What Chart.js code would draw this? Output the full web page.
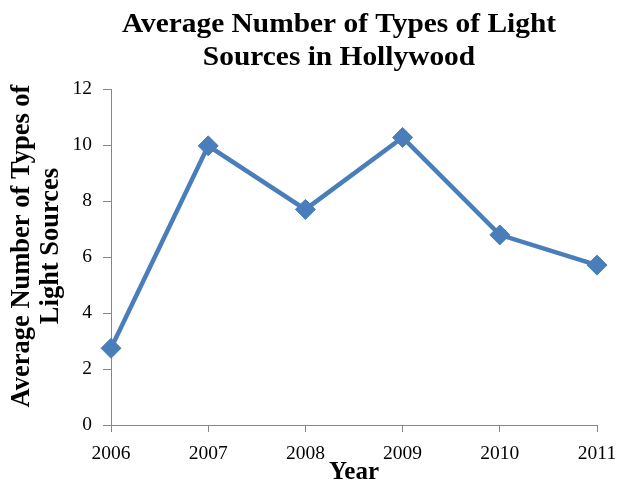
<!DOCTYPE html>
<html>
<head>
<meta charset="utf-8">
<script src="https://cdn.jsdelivr.net/npm/chart.js@4.4.0/dist/chart.umd.min.js"></script>
<style>
  html, body { margin: 0; padding: 0; background: #fff; }
  #box { width: 619px; height: 487px; }
</style>
</head>
<body>
<div id="box"><canvas id="lightChart"></canvas></div>
<script>
const years = ['2006', '2007', '2008', '2009', '2010', '2011'];
const avgTypes = [2.74, 9.97, 7.70, 10.27, 6.79, 5.71];
const yMin = 0;
const yMax = 12;
const yStep = 2;
const titleLines = ['Average Number of Types of Light', 'Sources in Hollywood'];
const yTitleLines = ['Average Number of Types of', 'Light Sources'];
const xTitle = 'Year';

const serif = "'Liberation Serif', 'Times New Roman', serif";
const axisGray = '#868686';
const lineBlue = '#4a7ebb';

// heading and the two-line y caption are drawn by hand
const captionPlugin = {
    id: 'captions',
    afterDraw(chart) {
        const ctx = chart.ctx;
        ctx.save();
        ctx.fillStyle = '#000';
        ctx.textAlign = 'center';
        ctx.textBaseline = 'alphabetic';

        // heading, slightly widened
        ctx.save();
        ctx.font = 'bold 28px ' + serif;
        ctx.translate(339, 0);
        ctx.scale(1.05, 1);
        titleLines.forEach((t, i) => ctx.fillText(t, 0, 32 + i * 33));
        ctx.restore();

        // y caption, rotated, centred a little above the axis middle
        ctx.save();
        ctx.font = 'bold 26.5px ' + serif;
        const midY = (chart.chartArea.top + chart.chartArea.bottom) / 2 - 11;
        yTitleLines.forEach((t, i) => {
            ctx.save();
            ctx.translate(29 + i * 29, midY);
            ctx.rotate(-Math.PI / 2);
            ctx.fillText(t, 0, 0);
            ctx.restore();
        });
        ctx.restore();

        ctx.restore();
    }
};

function initializeChart() {
    const ctx = document.getElementById('lightChart').getContext('2d');
    new Chart(ctx, {
        type: 'line',
        data: {
            labels: years,
            datasets: [{
                label: 'Average types',
                data: avgTypes,
                borderColor: lineBlue,
                backgroundColor: lineBlue,
                borderWidth: 4.5,
                pointStyle: 'rectRot',
                pointRadius: 10,
                pointBorderWidth: 1,
                pointBorderColor: lineBlue,
                pointBackgroundColor: lineBlue,
                tension: 0,
                fill: false,
            }]
        },
        plugins: [captionPlugin],
        options: {
            responsive: true,
            maintainAspectRatio: false,
            animation: false,
            layout: { padding: { top: 89, right: 22, bottom: 0, left: 0 } },
            plugins: {
                legend: { display: false },
                title: { display: false },
                tooltip: { enabled: false }
            },
            scales: {
                x: {
                    offset: false,
                    grid: { display: true, offset: false, drawOnChartArea: false, drawTicks: true, tickLength: 7, color: axisGray },
                    border: { display: true, color: axisGray, width: 1 },
                    ticks: { color: '#000', padding: 10, maxRotation: 0, font: { family: serif, size: 19.5 } },
                    title: {
                        display: true,
                        text: xTitle,
                        color: '#000',
                        padding: { top: 0, bottom: 1.5 },
                        font: { family: serif, size: 25, weight: 'bold', lineHeight: 1 }
                    },
                    afterFit(scale) {
                        scale.height = 62;
                        // the last year label only needs half its width on the right
                        scale.paddingRight = 20;
                    }
                },
                y: {
                    min: yMin,
                    max: yMax,
                    grid: { display: true, drawOnChartArea: false, drawTicks: true, tickLength: 8, color: axisGray },
                    border: { display: true, color: axisGray, width: 1 },
                    ticks: { stepSize: yStep, color: '#000', padding: 11, font: { family: serif, size: 19.5 } },
                    title: { display: false },
                    afterFit(scale) { scale.width = 111; }
                }
            }
        }
    });
}

window.onload = initializeChart;
</script>
</body>
</html>
